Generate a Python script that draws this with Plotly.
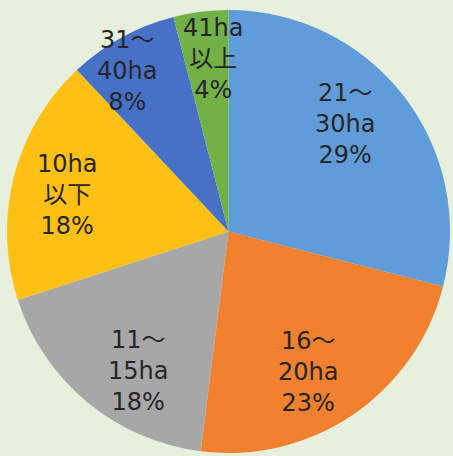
import plotly.graph_objects as go

W, H = 453, 456

# Farm size classes and their shares (%)
labels = ["21～<br>30ha", "16～<br>20ha", "11～<br>15ha", "10ha<br>以下", "31～<br>40ha", "41ha<br>以上"]
shares = [29, 23, 18, 18, 8, 4]
colors = ["#5f9cd9", "#f1802f", "#a7a7a7", "#fec014", "#4771c6", "#72b048"]

# Label block centres, in pixels from the top-left corner
label_px = [(345, 124), (308, 372), (138, 371), (67, 195), (127, 71), (213, 59)]

fig = go.Figure(
    go.Pie(
        labels=labels,
        values=shares,
        sort=False,
        direction="clockwise",
        rotation=0,
        marker=dict(colors=colors, line=dict(width=0)),
        textinfo="none",
        hoverinfo="label+percent",
        showlegend=False,
        domain=dict(x=[7 / W, 450 / W], y=[1 - 453 / H, 1 - 10 / H]),
    )
)

total = sum(shares)
for lab, val, (px, py) in zip(labels, shares, label_px):
    fig.add_annotation(
        x=px / W,
        y=1 - py / H,
        xref="paper",
        yref="paper",
        xanchor="center",
        yanchor="middle",
        showarrow=False,
        text=f"{lab}<br>{round(100 * val / total)}%",
        align="center",
        font=dict(family="DejaVu Sans, Noto Sans CJK JP", size=24, color="#262626"),
    )

fig.update_layout(
    width=W,
    height=H,
    margin=dict(l=0, r=0, t=0, b=0),
    paper_bgcolor="#e6f0dc",
    plot_bgcolor="#e6f0dc",
)

fig.write_html("out.html")
